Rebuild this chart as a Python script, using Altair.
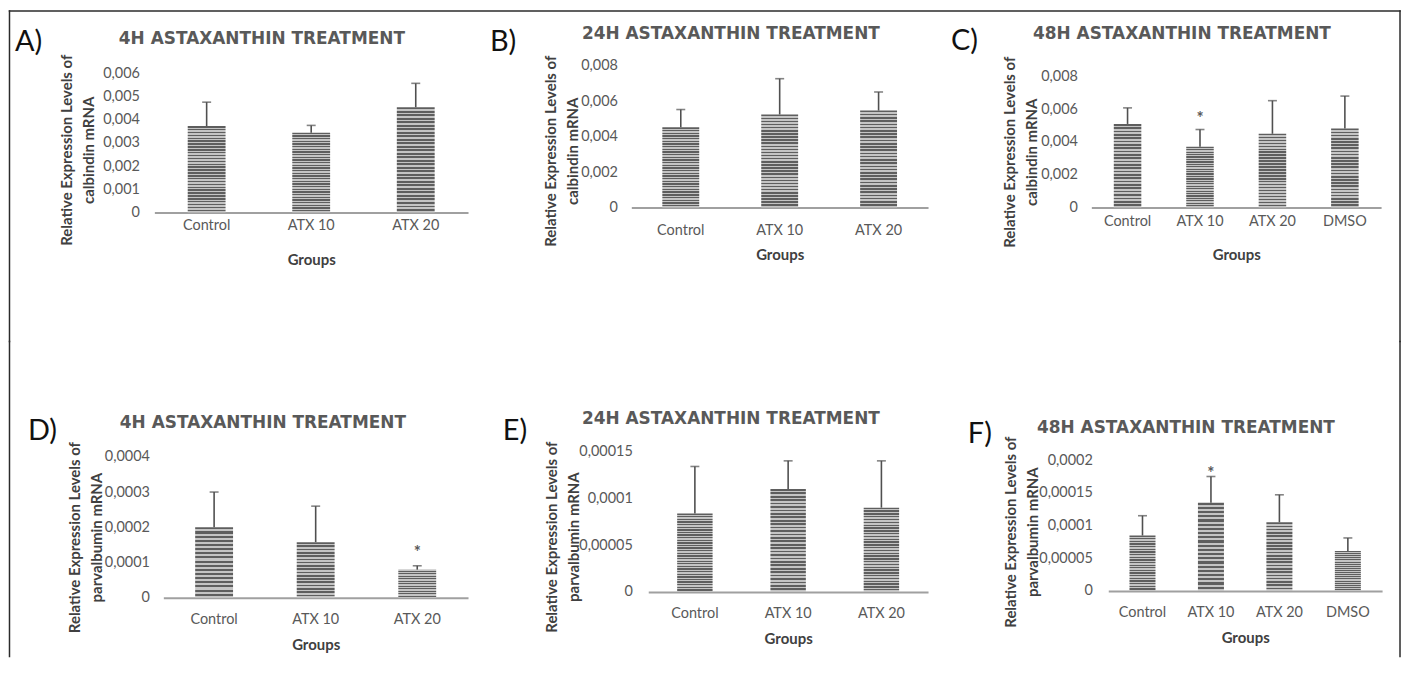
import altair as alt
import pandas as pd

# ---------------- data ----------------
groups_3 = ["Control", "ATX 10", "ATX 20"]
groups_4 = ["Control", "ATX 10", "ATX 20", "DMSO"]

panel_letters = ["A)", "B)", "C)", "D)", "E)", "F)"]
panel_titles = ["4H ASTAXANTHIN TREATMENT", "24H ASTAXANTHIN TREATMENT", "48H ASTAXANTHIN TREATMENT",
                "4H ASTAXANTHIN TREATMENT", "24H ASTAXANTHIN TREATMENT", "48H ASTAXANTHIN TREATMENT"]
y_title_calbindin = ["Relative Expression Levels of", "calbindin mRNA"]
y_title_parvalbumin = ["Relative Expression Levels of", "parvalbumin mRNA"]
x_title = "Groups"
star_text = "*"

# calbindin
a_mean = [0.00372, 0.00343, 0.00453]
a_err = [0.00103, 0.00032, 0.00103]
b_mean = [0.00453, 0.00525, 0.00547]
b_err = [0.00100, 0.00202, 0.00105]
c_mean = [0.00510, 0.00371, 0.00450, 0.00482]
c_err = [0.00098, 0.00105, 0.00202, 0.00198]
# parvalbumin
d_mean = [0.000200, 0.000158, 0.000080]
d_err = [0.000100, 0.000102, 0.000011]
e_mean = [0.0000837, 0.000110, 0.0000900]
e_err = [0.0000503, 0.000030, 0.000050]
f_mean = [0.0000847, 0.000135, 0.000105, 0.000061]
f_err = [0.0000303, 0.000040, 0.000042, 0.000020]

a_ticks = [0, 0.001, 0.002, 0.003, 0.004, 0.005, 0.006]
b_ticks = [0, 0.002, 0.004, 0.006, 0.008]
c_ticks = [0, 0.002, 0.004, 0.006, 0.008]
d_ticks = [0, 0.0001, 0.0002, 0.0003, 0.0004]
e_ticks = [0, 0.00005, 0.0001, 0.00015]
f_ticks = [0, 0.00005, 0.0001, 0.00015, 0.0002]

a_star = []
b_star = []
c_star = ["ATX 10"]
d_star = ["ATX 20"]
e_star = []
f_star = ["ATX 10"]

# ---------------- style ----------------
GREY_TXT = "#595959"
AXIS_TITLE = "#404040"
ERR = "#505050"
FRAME = "#2b2b2b"


def stripes(n, dark="#5e5e5e", light="#c4c4c4", frac=0.5):
    stops = []
    for k in range(n):
        a = round(k / n, 5)
        b = round((k + frac) / n, 5)
        c = round((k + 1) / n, 5)
        stops += [alt.GradientStop(offset=a, color=dark), alt.GradientStop(offset=b, color=dark),
                  alt.GradientStop(offset=b, color=light), alt.GradientStop(offset=c, color=light)]
    return alt.LinearGradient(gradient="linear", stops=stops, x1=0, x2=0, y1=0, y2=1)


def frame(segments):
    src = alt.Chart(pd.DataFrame({"k": [0]}))
    out = []
    for (x1, y1, x2, y2) in segments:
        out.append(src.mark_rule(color=FRAME, strokeWidth=1.5, strokeCap="square").encode(
            x=alt.value(x1), y=alt.value(y1), x2=alt.value(x2), y2=alt.value(y2)))
    return out


def make_panel(groups, means, errs, ticks, stars, letter, title, ytitle, L, extra=None):
    df = pd.DataFrame({"group": groups, "mean": means, "err": errs})
    sc_kw = dict(domain=groups, paddingInner=L["pi"], paddingOuter=L["pi"] / 2)
    if "xrange" in L:
        sc_kw["range"] = L["xrange"]
    x_scale = alt.Scale(**sc_kw)
    y_scale = alt.Scale(domain=[0, L["ymax"]], nice=False, zero=True)
    x_axis = alt.Axis(title=x_title, labelAngle=0, labelPadding=L["xlp"], titleY=47,
                      titleBaseline="middle", domain=True, domainColor="#a0a0a0", domainWidth=2,
                      ticks=False, tickSize=0, grid=False)
    y_axis = alt.Axis(title=ytitle, values=ticks,
                      labelExpr="replace(format(datum.value, ''), '.', ',')",
                      labelPadding=L["ylp"], domain=False, ticks=False, tickSize=0, grid=False,
                      titleAngle=270, titleAlign="center", titleBaseline="top",
                      titleX=L["ytx"], titleY=L["yty"], titleLineHeight=22)
    xs = alt.X("group:N", sort=groups, scale=x_scale, axis=x_axis)
    base = alt.Chart(df)
    bars = base.mark_bar(color=stripes(L["n"])).encode(
        x=xs, y=alt.Y("mean:Q", scale=y_scale, axis=y_axis))
    up = base.transform_calculate(upper="datum.mean + datum.err")
    errline = up.mark_rule(color=ERR, strokeWidth=1.6).encode(
        x=xs, y=alt.Y("mean:Q", scale=y_scale, axis=y_axis), y2="upper:Q")
    cap = up.mark_tick(color=ERR, thickness=1.6, size=9).encode(
        x=xs, y=alt.Y("upper:Q", scale=y_scale, axis=y_axis))
    layers = [bars, errline, cap]
    if stars:
        layers.append(up.transform_filter(alt.FieldOneOfPredicate(field="group", oneOf=stars))
                      .mark_text(text=star_text, font="Lato", fontSize=17, fontWeight="bold",
                                 color=GREY_TXT, baseline="alphabetic", dy=L["sdy"])
                      .encode(x=xs, y=alt.Y("upper:Q", scale=y_scale, axis=y_axis)))
    lab = alt.Chart(pd.DataFrame({"t": [letter]})).mark_text(
        font="Lato", fontSize=29, color="#111111", align="left", baseline="alphabetic").encode(
        x=alt.value(L["lx"]), y=alt.value(L["ly"]), text="t:N")
    ttl = alt.Chart(pd.DataFrame({"t": [title]})).mark_text(
        font="DejaVu Sans", fontWeight="bold", fontSize=17, color=GREY_TXT,
        align="center", baseline="middle").encode(
        x=alt.value(L["tx"]), y=alt.value(L["ty"]), text="t:N")
    layers += [lab, ttl]
    if extra:
        layers += extra
    return alt.layer(*layers).properties(width=L["W"], height=L["H"])


LA = dict(W=315, H=148, ymax=0.006 * 148 / 140, pi=0.638, xlp=6, ylp=15, ytx=-95.5, yty=85,
          lx=-140, ly=-14, tx=108, ty=-26, n=30)
LB = dict(W=298, H=143, ymax=0.008 * 143 / 142.4, pi=0.627, xlp=16, ylp=14, ytx=-88, yty=86,
          lx=-142, ly=-14, tx=100, ty=-31, n=30)
LC = dict(W=291, H=143, ymax=0.008 * 143 / 131.7, pi=0.62, xlp=7, ylp=14, ytx=-89.3, yty=87,
          lx=-141, ly=-15, tx=91, ty=-31, n=25, sdy=-6)
LD = dict(W=315, H=147, xrange=[9, 315], ymax=0.0004 * 147 / 141.7, pi=0.627, xlp=15, ylp=5,
          ytx=-86.7, yty=86, lx=-127, ly=-12, tx=109, ty=-29, n=17, sdy=-8)
LE = dict(W=281, H=141, ymax=0.00015, pi=0.62, xlp=15, ylp=16, ytx=-103.7, yty=85.5,
          lx=-146, ly=-12, tx=83, ty=-33, n=30)
LF = dict(W=275, H=140, ymax=0.0002 * 140 / 131.3, pi=0.62, xlp=15, ylp=16, ytx=-104.7, yty=80.5,
          lx=-141, ly=-9, tx=78, ty=-24, n=21, sdy=3)

frame_top = frame([(-145.5, -54.5, 1251, -54.5), (-145.5, -54.5, -145.5, 277.5),
                   (1251, -54.5, 1251, 277.5)])
frame_bottom = frame([(-145.5, -110.5, -145.5, 206), (1251, -110.5, 1251, 206)])

pA = make_panel(groups_3, a_mean, a_err, a_ticks, a_star, panel_letters[0], panel_titles[0],
                y_title_calbindin, LA, extra=frame_top)
pB = make_panel(groups_3, b_mean, b_err, b_ticks, b_star, panel_letters[1], panel_titles[1],
                y_title_calbindin, LB)
pC = make_panel(groups_4, c_mean, c_err, c_ticks, c_star, panel_letters[2], panel_titles[2],
                y_title_calbindin, LC)
pD = make_panel(groups_3, d_mean, d_err, d_ticks, d_star, panel_letters[3], panel_titles[3],
                y_title_parvalbumin, LD, extra=frame_bottom)
pE = make_panel(groups_3, e_mean, e_err, e_ticks, e_star, panel_letters[4], panel_titles[4],
                y_title_parvalbumin, LE)
pF = make_panel(groups_4, f_mean, f_err, f_ticks, f_star, panel_letters[5], panel_titles[5],
                y_title_parvalbumin, LF)

row1 = alt.hconcat(pA, pB, pC, spacing=164, bounds="flush")
row2 = alt.hconcat(pD, pE, pF, spacing=181, bounds="flush")

chart = alt.vconcat(row1, row2, spacing=-3).properties(
    padding=0, background="white"
).configure_view(strokeWidth=0).configure_axis(
    labelFont="Lato", labelFontSize=14.5, labelColor=GREY_TXT,
    titleFont="Lato", titleFontSize=15, titleFontWeight="bold", titleColor=AXIS_TITLE
)

chart.save("out.html", embed_options={"renderer": "svg", "actions": False})
